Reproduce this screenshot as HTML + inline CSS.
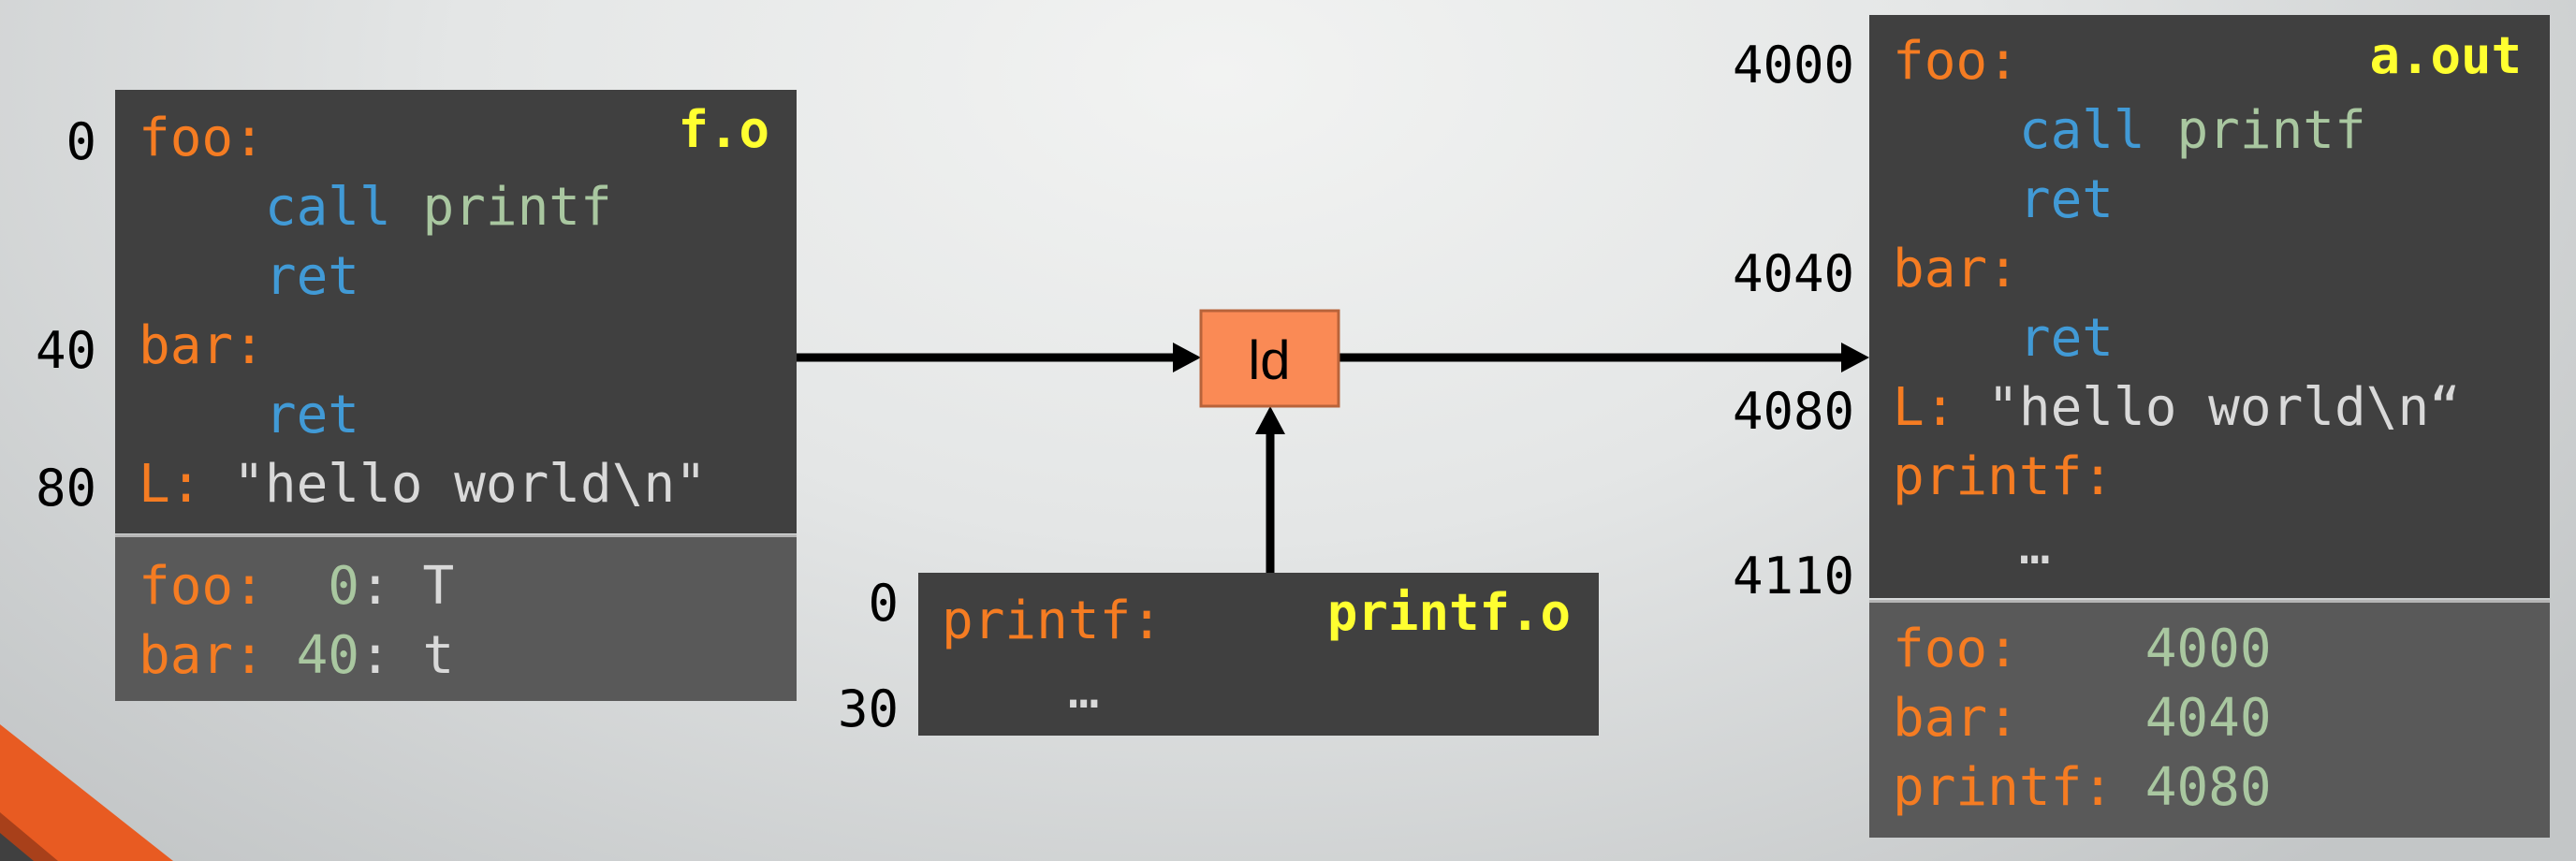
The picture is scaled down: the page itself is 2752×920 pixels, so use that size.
<!DOCTYPE html>
<html><head><meta charset="utf-8"><style>
body{margin:0;width:2752px;height:920px;overflow:hidden;position:relative;
background:radial-gradient(ellipse 1800px 1100px at 1300px 80px,#f2f3f2 0%,#e4e6e6 45%,#c3c6c7 100%);}
.b{position:absolute;background:#404040;}
.s{position:absolute;background:#595959;border-top:3px solid #b5b5b5;}
pre{position:absolute;margin:0;font-family:"DejaVu Sans Mono",monospace;font-size:56px;line-height:74px;color:#d9d9d9;white-space:pre;}
.o{color:#f57c22}.u{color:#419ad6}.g{color:#a9c7a0}
.n{position:absolute;font-family:"DejaVu Sans Mono",monospace;font-size:54px;line-height:54px;color:#000;text-align:right;}
.y{position:absolute;font-family:"DejaVu Sans Mono",monospace;font-weight:bold;font-size:54px;line-height:54px;color:#ffff30;text-align:right;}
.ar{position:absolute;background:#000;}
</style></head><body>
<svg style="position:absolute;left:0;top:0" width="2752" height="920">
<polygon points="0,774 185,920 0,920" fill="#e85b22"/>
<polygon points="0,868 62,920 0,920" fill="#a8401a"/>
<polygon points="0,890 36,920 0,920" fill="#404040"/>
<line x1="851" y1="382" x2="1256" y2="382" stroke="#000" stroke-width="9"/>
<polygon points="1253,366 1283,382 1253,398" fill="#000"/>
<line x1="1430" y1="382" x2="1970" y2="382" stroke="#000" stroke-width="9"/>
<polygon points="1967,366 1997,382 1967,398" fill="#000"/>
<line x1="1357" y1="612" x2="1357" y2="460" stroke="#000" stroke-width="9"/>
<polygon points="1341,464 1357,434 1373,464" fill="#000"/>
<rect x="1283" y="332" width="147" height="102" fill="#fa8a55" stroke="#b8633a" stroke-width="3"/>
<text x="1356" y="405" font-family="Liberation Sans, sans-serif" font-size="58" text-anchor="middle" fill="#000">ld</text>
</svg>

<div class="b" style="left:123px;top:96px;width:728px;height:474px"></div>
<div class="s" style="left:123px;top:571px;width:728px;height:175px"></div>
<pre style="left:148px;top:111px"><span class="o">foo:</span>
    <span class="u">call</span> <span class="g">printf</span>
    <span class="u">ret</span>
<span class="o">bar:</span>
    <span class="u">ret</span>
<span class="o">L:</span> "hello world\n"</pre>
<pre style="left:148px;top:590px"><span class="o">foo:</span>  <span class="g">0</span>: T
<span class="o">bar:</span> <span class="g">40</span>: t</pre>
<div class="n" style="right:2649px;top:125px">0</div>
<div class="n" style="right:2649px;top:348px">40</div>
<div class="n" style="right:2649px;top:495px">80</div>
<div class="y" style="right:1930px;top:112px">f.o</div>

<div class="b" style="left:981px;top:612px;width:727px;height:174px"></div>
<pre style="left:1006px;top:627px"><span class="o">printf:</span>
    …</pre>
<div class="n" style="right:1792px;top:618px">0</div>
<div class="n" style="right:1792px;top:731px">30</div>
<div class="y" style="right:1074px;top:628px">printf.o</div>

<div class="b" style="left:1997px;top:16px;width:727px;height:623px"></div>
<div class="s" style="left:1997px;top:641px;width:727px;height:251px"></div>
<pre style="left:2022px;top:29px"><span class="o">foo:</span>
    <span class="u">call</span> <span class="g">printf</span>
    <span class="u">ret</span>
<span class="o">bar:</span>
    <span class="u">ret</span>
<span class="o">L:</span> "hello world\n“
<span class="o">printf:</span>
    …</pre>
<pre style="left:2022px;top:657px"><span class="o">foo:</span>    <span class="g">4000</span>
<span class="o">bar:</span>    <span class="g">4040</span>
<span class="o">printf:</span> <span class="g">4080</span></pre>
<div class="n" style="right:771px;top:43px">4000</div>
<div class="n" style="right:771px;top:266px">4040</div>
<div class="n" style="right:771px;top:413px">4080</div>
<div class="n" style="right:771px;top:589px">4110</div>
<div class="y" style="right:58px;top:33px">a.out</div>
</body></html>
